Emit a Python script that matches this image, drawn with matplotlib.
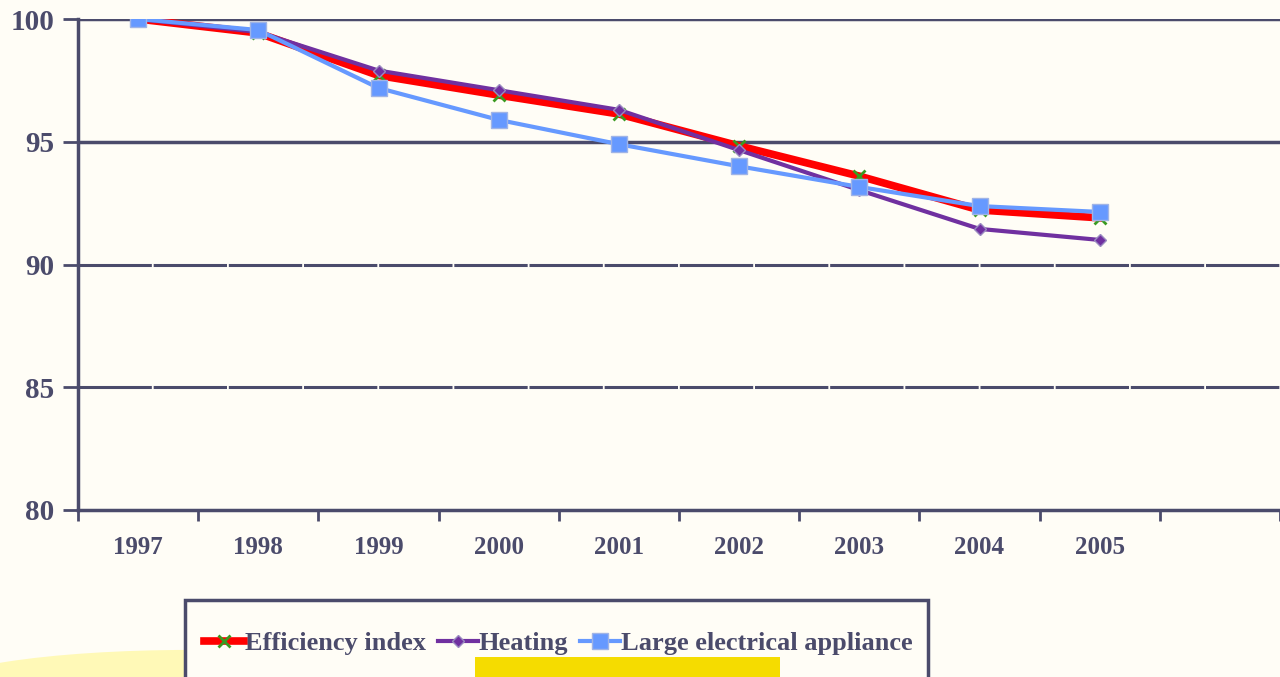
import matplotlib.pyplot as plt
from matplotlib.patches import Rectangle, Ellipse
import numpy as np

# categories and series
years = ["1997", "1998", "1999", "2000", "2001", "2002", "2003", "2004", "2005", ""]
efficiency = [100.0, 99.43, 97.7, 96.9, 96.13, 94.83, 93.6, 92.22, 91.9]
heating = [100.0, 99.47, 97.9, 97.1, 96.3, 94.66, 93.03, 91.45, 91.0]
appliance = [100.0, 99.55, 97.19, 95.89, 94.9, 94.0, 93.16, 92.38, 92.14]

BG = "#fffdf6"
INK = "#4b4b6b"
FONT = ["Liberation Serif", "DejaVu Serif"]

fig = plt.figure(figsize=(12.8, 6.77), dpi=100, facecolor=BG)
ax = fig.add_axes([78 / 1280, 1 - 510 / 677, 1 - 78 / 1280, (510 - 19) / 677])
ax.set_facecolor(BG)

x = np.arange(len(efficiency))
ax.plot(x, efficiency, color="#ff0000", lw=5.5, marker="x", ms=8, mec="#3a9a20", mew=2,
        label="Efficiency index", zorder=3)
ax.plot(x, heating, color="#7030a0", lw=3, marker="D", ms=6, mec="#9a8ac0",
        label="Heating", zorder=4)
ax.plot(x, appliance, color="#6699ff", lw=3, marker="s", ms=11, mec="#a0b4e6",
        label="Large electrical appliance", zorder=5)

ax.set_xlim(-0.5, len(years) - 0.5)
ax.set_ylim(80, 100)
ax.set_yticks([80, 85, 90, 95, 100])
ax.set_yticklabels(["80", "85", "90", "95", "100"])

for v in [85, 90]:
    ax.axhline(v, color=INK, lw=2.2, ls=(0, (24, 0.6)), zorder=1)
for v in [95, 100]:
    ax.axhline(v, color=INK, lw=2.5, zorder=1)

ax.set_xticks(np.arange(-0.5, len(years), 1.0))
ax.set_xticklabels([])
ax.set_xticks(np.arange(len(years)), minor=True)
ax.set_xticklabels(years, minor=True)
ax.tick_params(axis="x", which="major", length=8, width=2, color=INK, direction="out")
ax.tick_params(axis="x", which="minor", length=0, pad=19, labelsize=18, labelcolor=INK)
ax.tick_params(axis="y", length=11, width=2, color=INK, pad=6, labelsize=21, labelcolor=INK)
for lab in ax.get_xticklabels(minor=True) + ax.get_yticklabels():
    lab.set_family(FONT)
    lab.set_fontweight("bold")

for side in ["top", "right"]:
    ax.spines[side].set_visible(False)
for side in ["left", "bottom"]:
    ax.spines[side].set_color(INK)
    ax.spines[side].set_linewidth(2.5)

# slide decorations at the bottom
fig.patches.append(Ellipse((190 / 1280, -0.02), 520 / 1280, 0.12,
                           transform=fig.transFigure, facecolor="#fff8a8",
                           edgecolor="none", alpha=0.8, zorder=0))
fig.patches.append(Rectangle((185 / 1280, -0.05), (928 - 185) / 1280, 0.05 + 77 / 677,
                             transform=fig.transFigure, facecolor=BG,
                             edgecolor=INK, lw=2.5, zorder=1))
fig.patches.append(Rectangle((475 / 1280, 0), (780 - 475) / 1280, 20 / 677,
                             transform=fig.transFigure, facecolor="#f5dc00",
                             edgecolor="none", zorder=2))

leg = fig.legend(loc="center left", bbox_to_anchor=(191 / 1280, 1 - 643 / 677),
                 ncol=3, frameon=False, handlelength=1.5, handletextpad=0.05,
                 columnspacing=0.45, borderpad=0,
                 prop={"family": FONT, "weight": "bold", "size": 19})
for t in leg.get_texts():
    t.set_color(INK)
leg.set_zorder(3)

fig.savefig("out.png", dpi=100, facecolor=BG)
